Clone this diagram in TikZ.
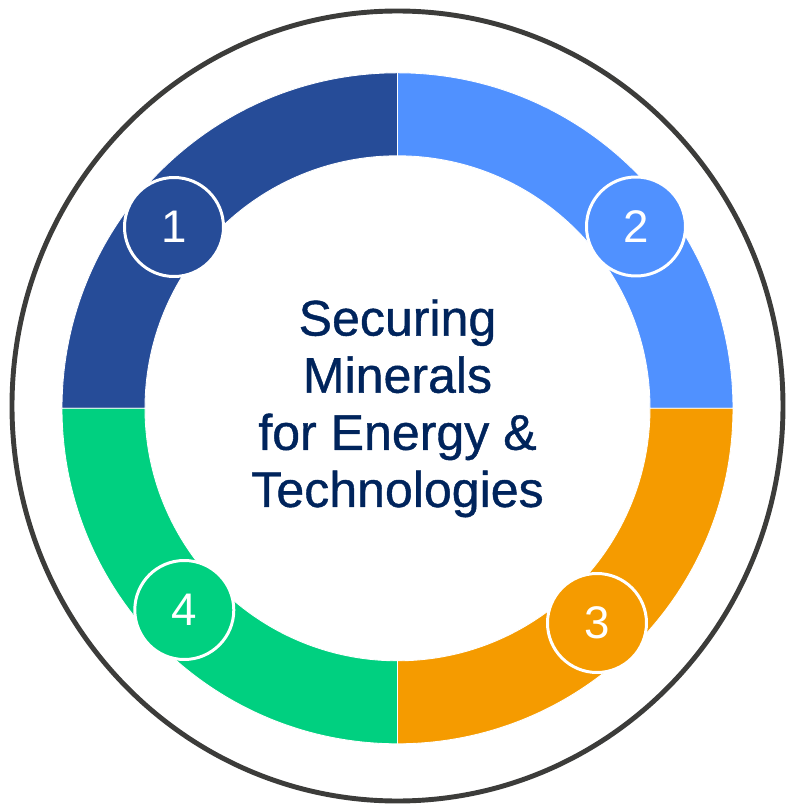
\documentclass[tikz,border=0pt]{standalone}
\usepackage{fontspec}
\setmainfont{Liberation Sans}
\newfontfamily\titlefont[FakeBold=0.8]{Liberation Sans}
\usepackage{tikz}
\usetikzlibrary{positioning}

\definecolor{segnavy}{HTML}{264C98}
\definecolor{segsky}{HTML}{5091FF}
\definecolor{segorange}{HTML}{F59B00}
\definecolor{seggreen}{HTML}{00D080}
\definecolor{titleblue}{HTML}{00245C}
\definecolor{rimgray}{HTML}{3C3C3A}

\begin{document}
\begin{tikzpicture}[
  segment/.style={draw=white, line width=0.5pt},
  badge/.style={circle, draw=white, line width=1.7pt, minimum size=1.98cm, inner sep=0pt, text=white, font=\fontsize{26}{26}\selectfont},
  title/.style={align=center, text=titleblue, font=\titlefont\fontsize{28.5}{32.5}\selectfont}
]
  \useasboundingbox (-7.95,-7.934) rectangle (7.77,8.166);
  \draw[rimgray, line width=2.8pt] (0,0.046) ellipse [x radius=7.71, y radius=7.9];
  \fill[segnavy, segment] (180:6.71) arc[start angle=180, end angle=90, radius=6.71] -- (90:5.05) arc[start angle=90, end angle=180, radius=5.05] -- cycle;
  \fill[segsky, segment] (90:6.71) arc[start angle=90, end angle=0, radius=6.71] -- (0:5.05) arc[start angle=0, end angle=90, radius=5.05] -- cycle;
  \fill[segorange, segment] (0:6.71) arc[start angle=0, end angle=-90, radius=6.71] -- (-90:5.05) arc[start angle=-90, end angle=0, radius=5.05] -- cycle;
  \fill[seggreen, segment] (-90:6.71) arc[start angle=-90, end angle=-180, radius=6.71] -- (-180:5.05) arc[start angle=-180, end angle=-90, radius=5.05] -- cycle;
  \node[badge, fill=segnavy] (first) at (-4.47,3.626) {1};
  \node[badge, fill=segsky] (second) at (4.77,3.636) {2};
  \node[badge, fill=segorange] (third) at (3.99,-4.294) {3};
  \node[badge, fill=seggreen] (fourth) at (-4.264,-4.034) {4};
  \node[title] (core) at (0,0) {Securing\\Minerals\\for Energy \&\\Technologies};
\end{tikzpicture}
\end{document}
